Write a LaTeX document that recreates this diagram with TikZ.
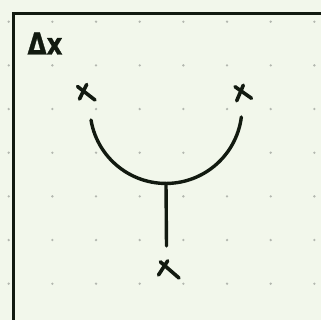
\documentclass[tikz,border=0pt]{standalone}
\usepackage{fontspec}
\newfontfamily\handfont[FakeBold=1.2]{DejaVu Sans}
\definecolor{bgc}{HTML}{F2F7EB}
\definecolor{ink}{HTML}{121A10}
\definecolor{dotc}{HTML}{B3B7AF}
\begin{document}
\begin{tikzpicture}[x=1pt,y=-1pt,
  inkline/.style={draw=ink,line width=3.4pt,line cap=round},
  crossmark/.style={draw=ink,line width=3.6pt,line cap=round}]
\useasboundingbox (0,0) rectangle (321,320);
\fill[bgc] (0,0) rectangle (321,320);
% dot grid
\foreach \i in {0,...,7}{
  \foreach \j in {0,...,6}{
    \fill[dotc] ({8.7+43.67*\i},{21.7+43.67*\j}) circle (1.3);
  }
}
% frame
\draw[draw=ink,line width=3.4pt] (13.5,322) -- (13.5,13.5) -- (323,13.5);
% label
\node[text=ink,font=\handfont\bfseries\fontsize{30}{32}\selectfont,inner sep=0pt,anchor=base,xscale=0.82] (lbl) at (45,54.5) {Δx};
% crosses (points)
\coordinate (p1) at (87,92);
\coordinate (p2) at (243,93);
\coordinate (p3) at (169,270);
\draw[crossmark] (77.5,86.5) -- (95,100);
\draw[crossmark] (86.7,84.5) -- (79.5,99);
\draw[crossmark] (235,86.7) -- (251.5,98.3);
\draw[crossmark] (243.3,85.2) -- (236.7,100.8);
\draw[crossmark] (160.3,261.8) -- (179,278);
\draw[crossmark] (167.7,260.8) -- (158.5,275);
% arc and stem
\coordinate (ctr) at (166,107.5);
\coordinate (abot) at (166,183.5);
\coordinate (stemend) at (166.5,246);
\draw[inkline] (91,120) arc[start angle=170.5,end angle=7.2,radius=76];
\draw[draw=ink,line width=3.4pt,line cap=round] (abot) -- (stemend);
\end{tikzpicture}
\end{document}
